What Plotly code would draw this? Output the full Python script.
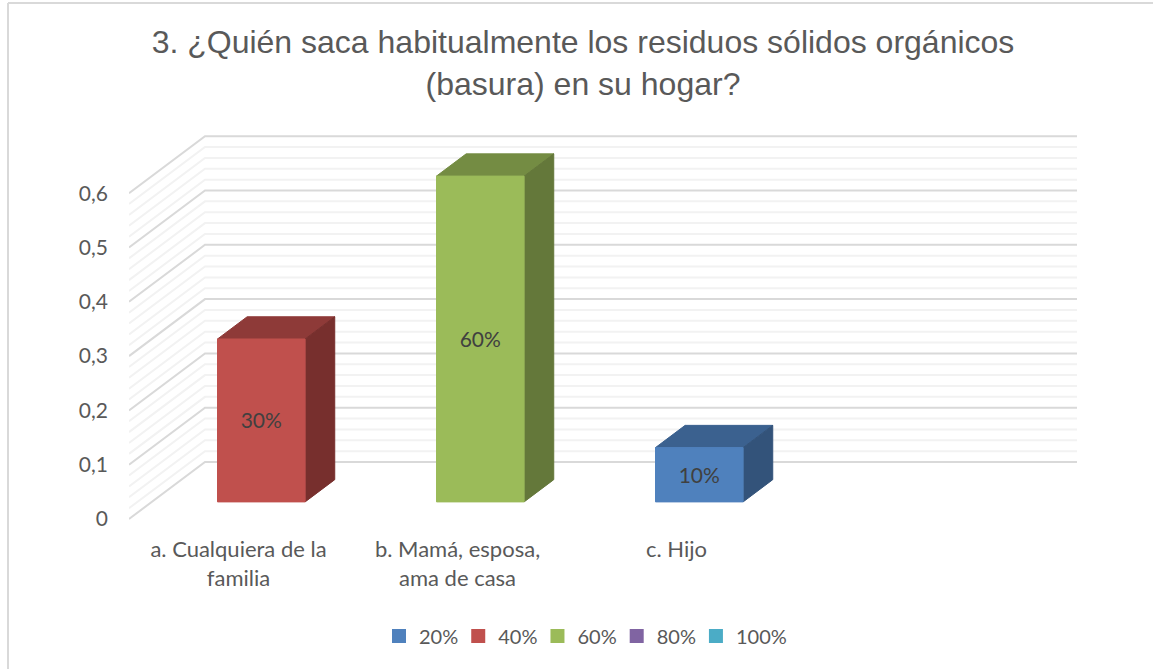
import plotly.graph_objects as go

CATEGORIES = ["a. Cualquiera de la<br>familia", "b. Mamá, esposa,<br>ama de casa", "c. Hijo"]
VALUES = [0.3, 0.6, 0.1]
BAR_LABELS = ["30%", "60%", "10%"]
FRONT_COLORS = ["#C0504D", "#9BBB59", "#4F81BD"]
TOP_COLORS = ["#8E3A38", "#748C43", "#3B618F"]
SIDE_COLORS = ["#772F2D", "#64783A", "#33537A"]

Y_TICKS = [0, 0.1, 0.2, 0.3, 0.4, 0.5, 0.6]
Y_TICK_LABELS = ["0", "0,1", "0,2", "0,3", "0,4", "0,5", "0,6"]
MINOR_TICKS = [i / 50 for i in range(31) if i % 5 != 0]

LEGEND_NAMES = ["20%", "40%", "60%", "80%", "100%"]
LEGEND_COLORS = ["#4F81BD", "#C0504D", "#9BBB59", "#8064A2", "#4BACC6"]

TITLE = "3. ¿Quién saca habitualmente los residuos sólidos orgánicos<br>(basura) en su hogar?"

## Fake 3D: a depth z (0 = front, 1 = back wall) shifts a point right and up
WIDTH, HEIGHT = 1153, 669
PLOT_L, PLOT_R, PLOT_T, PLOT_B = 129, 1077, 120, 529
PX_PER_CAT = 219.0
PX_PER_UNIT = 543.0
FLOOR_PX = 519
DEPTH_X = 76 / PX_PER_CAT
DEPTH_Y = 57 / PX_PER_UNIT
BAR_WIDTH = 0.4
BAR_Z0, BAR_Z1 = 0.3, 0.69
LABEL_DROP = 2.5 / PX_PER_UNIT

X_MIN = -0.5
X_MAX = X_MIN + (PLOT_R - PLOT_L) / PX_PER_CAT
BACK_X = X_MAX
Y_MIN = (FLOOR_PX - PLOT_B) / PX_PER_UNIT
Y_MAX = (FLOOR_PX - PLOT_T) / PX_PER_UNIT


def project(x, y, z):
    return x + z * DEPTH_X, y + z * DEPTH_Y


def add_poly(fig, corners, color, line_color=None):
    pts = [project(*c) for c in corners]
    pts.append(pts[0])
    fig.add_trace(go.Scatter(
        x=[p[0] for p in pts], y=[p[1] for p in pts],
        mode="lines", fill="toself", fillcolor=color,
        line=dict(color=line_color or color, width=1),
        showlegend=False, hoverinfo="skip",
    ))


def add_gridline(fig, value, color, width):
    x = [project(X_MIN, value, 0)[0], project(X_MIN, value, 1)[0], BACK_X]
    y = [value, project(X_MIN, value, 1)[1], project(X_MIN, value, 1)[1]]
    fig.add_trace(go.Scatter(
        x=x, y=y, mode="lines", line=dict(color=color, width=width),
        showlegend=False, hoverinfo="skip",
    ))


fig = go.Figure()

for v in MINOR_TICKS:
    add_gridline(fig, v, "#F2F2F2", 2)
for v in Y_TICKS:
    add_gridline(fig, v, "#D9D9D9", 2)

for i, v in enumerate(VALUES):
    left, right = i - BAR_WIDTH / 2, i + BAR_WIDTH / 2
    add_poly(fig, [(left, v, BAR_Z0), (right, v, BAR_Z0), (right, v, BAR_Z1), (left, v, BAR_Z1)], TOP_COLORS[i])
    add_poly(fig, [(right, 0, BAR_Z0), (right, 0, BAR_Z1), (right, v, BAR_Z1), (right, v, BAR_Z0)], SIDE_COLORS[i])
    add_poly(fig, [(left, 0, BAR_Z0), (right, 0, BAR_Z0), (right, v, BAR_Z0), (left, v, BAR_Z0)], FRONT_COLORS[i])

# Data labels sit in the middle of the front face
label_pts = [project(i, v / 2 - LABEL_DROP, BAR_Z0) for i, v in enumerate(VALUES)]
fig.add_trace(go.Scatter(
    x=[p[0] for p in label_pts], y=[p[1] for p in label_pts],
    mode="text", text=BAR_LABELS,
    textfont=dict(family="Lato", size=21, color="#404040"),
    showlegend=False, hoverinfo="skip",
))

# Legend only traces
for name, color in zip(LEGEND_NAMES, LEGEND_COLORS):
    fig.add_trace(go.Scatter(
        x=[None], y=[None], mode="markers", name=name,
        marker=dict(symbol="square", size=14, color=color),
    ))


def px_to_paper_x(px):
    return (px - PLOT_L) / (PLOT_R - PLOT_L)


def px_to_paper_y(px):
    return (PLOT_B - px) / (PLOT_B - PLOT_T)


# Chart frame: only the top and left edges show in the picture
border = dict(color="#D9D9D9", width=2)
fig.add_shape(type="line", xref="paper", yref="paper", line=border,
              x0=px_to_paper_x(8), x1=px_to_paper_x(WIDTH), y0=px_to_paper_y(3), y1=px_to_paper_y(3))
fig.add_shape(type="line", xref="paper", yref="paper", line=border,
              x0=px_to_paper_x(8), x1=px_to_paper_x(8), y0=px_to_paper_y(3), y1=px_to_paper_y(HEIGHT))

fig.update_layout(
    width=WIDTH, height=HEIGHT,
    paper_bgcolor="#FFFFFF", plot_bgcolor="#FFFFFF",
    font=dict(family="Lato", size=21, color="#595959"),
    title=dict(
        text=TITLE, x=583 / WIDTH, xanchor="center", y=1 - 53 / HEIGHT, yanchor="top",
        font=dict(family="Liberation Sans", size=32, color="#595959"),
    ),
    xaxis=dict(
        range=[X_MIN, X_MAX], tickmode="array", tickvals=list(range(len(CATEGORIES))),
        ticktext=CATEGORIES, showgrid=False, zeroline=False, showline=False, ticks="",
        tickfont=dict(size=22), ticklabelstandoff=5,
    ),
    yaxis=dict(
        range=[Y_MIN, Y_MAX], tickmode="array", tickvals=Y_TICKS, ticktext=Y_TICK_LABELS,
        showgrid=False, zeroline=False, showline=False, ticks="", ticklabelstandoff=20,
    ),
    legend=dict(
        orientation="h", xref="container", yref="container",
        x=384 / WIDTH, xanchor="left", y=1 - 636 / HEIGHT, yanchor="middle",
        indentation=-5, itemsizing="trace", bgcolor="rgba(0,0,0,0)",
        font=dict(size=20),
    ),
    margin=dict(l=PLOT_L, r=WIDTH - PLOT_R, t=PLOT_T, b=HEIGHT - PLOT_B, autoexpand=False),
)

# Browser default body margin would push the figure 8px off the window
fig.write_html("out.html", config={"displayModeBar": False},
               post_script="document.body.style.margin = '0';")
